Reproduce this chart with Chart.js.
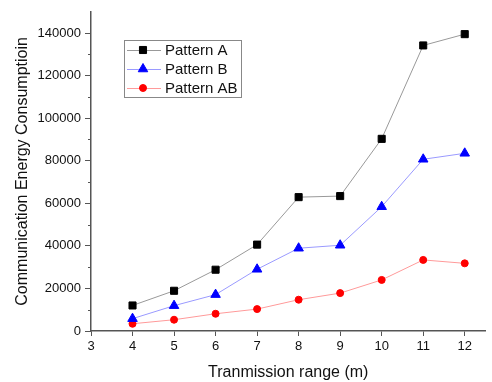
<!DOCTYPE html>
<html>
<head>
<meta charset="utf-8">
<script src="https://cdn.jsdelivr.net/npm/chart.js@4"></script>
<style>
  html, body { margin: 0; padding: 0; background: #fff; }
  #wrap { width: 492px; height: 382px; }
</style>
</head>
<body>
<div id="wrap"><canvas id="energyChart" width="492" height="382"></canvas></div>
<script>
// data
const ranges = [4, 5, 6, 7, 8, 9, 10, 11, 12];
const patternA = [12000, 18900, 28800, 40600, 62900, 63400, 90300, 134200, 139500];
const patternB = [5800, 11900, 17100, 29000, 38900, 40300, 58400, 80700, 83500];
const patternAB = [3400, 5300, 8100, 10300, 14700, 17800, 24000, 33400, 31800];
const seriesNames = ['Pattern A', 'Pattern B', 'Pattern AB'];
const yTicks = [0, 20000, 40000, 60000, 80000, 100000, 120000, 140000];
const yMinorTicks = [10000, 30000, 50000, 70000, 90000, 110000, 130000];

const FONT = 'Arial, "Liberation Sans", sans-serif';

function toPoints(vals) {
    return ranges.map((x, i) => ({ x: x, y: vals[i] }));
}

// minor ticks on the y axis (shorter)
const minorTicks = {
    id: 'minorTicks',
    afterDraw(chart) {
        const ctx = chart.ctx;
        const y = chart.scales.y;
        ctx.save();
        ctx.strokeStyle = '#555';
        ctx.lineWidth = 1;
        yMinorTicks.forEach(v => {
            const py = Math.round(y.getPixelForValue(v)) + 0.5;
            ctx.beginPath();
            ctx.moveTo(y.right - 3, py);
            ctx.lineTo(y.right, py);
            ctx.stroke();
        });
        ctx.restore();
    }
};

// boxed legend inside the plot, Origin style
const boxLegend = {
    id: 'boxLegend',
    afterDraw(chart) {
        const ctx = chart.ctx;
        const bx = 124, by = 40, bw = 117, bh = 57;
        ctx.save();
        ctx.strokeStyle = '#888';
        ctx.lineWidth = 1;
        ctx.strokeRect(bx + 0.5, by + 0.5, bw, bh);
        ctx.font = '15px ' + FONT;
        ctx.textBaseline = 'middle';
        chart.data.datasets.forEach((ds, i) => {
            const cy = by + 10 + i * 19;
            ctx.strokeStyle = ds.borderColor;
            ctx.lineWidth = 1;
            ctx.beginPath();
            ctx.moveTo(bx + 3, cy + 0.5);
            ctx.lineTo(bx + 37, cy + 0.5);
            ctx.stroke();
            ctx.fillStyle = ds.pointBackgroundColor;
            ctx.strokeStyle = ds.pointBorderColor;
            Chart.helpers.drawPoint(ctx, {
                pointStyle: ds.pointStyle,
                radius: ds.pointRadius,
                borderWidth: 1,
                rotation: 0
            }, bx + 19, cy);
            ctx.fillStyle = '#111';
            ctx.textAlign = 'left';
            ctx.fillText(ds.label, bx + 41, cy + 1);
        });
        ctx.restore();
    }
};

document.addEventListener('DOMContentLoaded', function() {
    const ctx = document.getElementById('energyChart').getContext('2d');
    new Chart(ctx, {
        type: 'line',
        data: {
            datasets: [{
                label: seriesNames[0],
                data: toPoints(patternA),
                borderColor: '#999999',
                pointBackgroundColor: '#000000',
                pointBorderColor: '#000000',
                pointStyle: 'rect',
                pointRadius: 5,
                borderWidth: 1
            }, {
                label: seriesNames[1],
                data: toPoints(patternB),
                borderColor: '#9a9aff',
                pointBackgroundColor: '#0000ff',
                pointBorderColor: '#0000ff',
                pointStyle: 'triangle',
                pointRadius: 5.5,
                borderWidth: 1
            }, {
                label: seriesNames[2],
                data: toPoints(patternAB),
                borderColor: '#ff9a9a',
                pointBackgroundColor: '#ff0000',
                pointBorderColor: '#ff0000',
                pointStyle: 'circle',
                pointRadius: 3.5,
                borderWidth: 1
            }]
        },
        options: {
            responsive: false,
            animation: false,
            layout: { padding: { top: 9, right: 1, left: 0, bottom: 0 } },
            plugins: {
                legend: { display: false },
                tooltip: { enabled: false }
            },
            scales: {
                x: {
                    type: 'linear',
                    min: 3,
                    max: 12.5,
                    afterFit(scale) { scale.height = 51; },
                    border: { color: '#555', width: 1.5 },
                    grid: { drawOnChartArea: false, tickLength: 5, color: '#555' },
                    ticks: {
                        stepSize: 1,
                        includeBounds: false,
                        padding: 3,
                        color: '#111',
                        font: { family: FONT, size: 13 }
                    },
                    title: {
                        display: true,
                        text: 'Tranmission range (m)',
                        color: '#111',
                        font: { family: FONT, size: 16 },
                        padding: { top: 0, bottom: 0 }
                    }
                },
                y: {
                    min: 0,
                    max: 150000,
                    afterFit(scale) { scale.width = 91; },
                    afterBuildTicks(scale) {
                        scale.ticks = yTicks.map(v => ({ value: v }));
                    },
                    border: { color: '#555', width: 1.5 },
                    grid: { drawOnChartArea: false, tickLength: 6, color: '#555' },
                    ticks: {
                        padding: 4,
                        color: '#111',
                        font: { family: FONT, size: 13 },
                        callback: v => String(v)
                    },
                    title: {
                        display: true,
                        text: 'Communication Energy Consumptioin',
                        color: '#111',
                        font: { family: FONT, size: 16 },
                        padding: { top: 13, bottom: 0 }
                    }
                }
            }
        },
        plugins: [minorTicks, boxLegend]
    });
});
</script>
</body>
</html>
